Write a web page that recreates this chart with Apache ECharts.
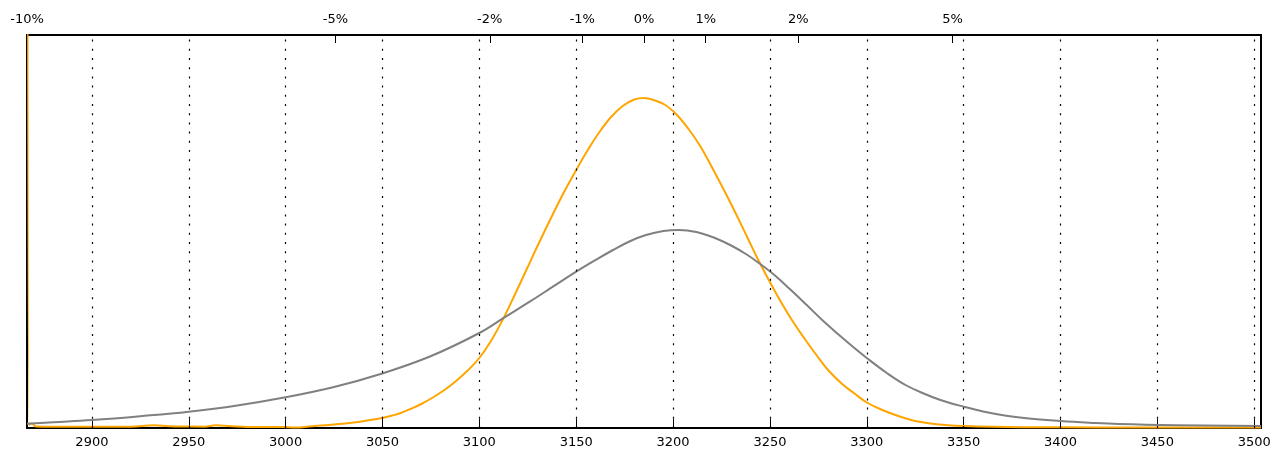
<!DOCTYPE html>
<html>
<head>
<meta charset="utf-8">
<script src="https://cdn.jsdelivr.net/npm/echarts@6/dist/echarts.min.js"></script>
<style>
html, body { margin:0; padding:0; background:#fff; }
#view1 { width:1275px; height:451px; }
</style>
</head>
<body>
<div id="view1"></div>
<script>
"use strict";
// x range = base price -10% .. +10%
var basePrice = 3185;
var xMin = 2866.5, xMax = 3503.5;

var bottomTicks = [2900, 2950, 3000, 3050, 3100, 3150, 3200, 3250, 3300, 3350, 3400, 3450, 3500];
var pctTicks = [-10, -5, -2.5, -1, 0, 1, 2.5, 5, 10];
var pctLabels = ['-10%', '-5%', '-2%', '-1%', '0%', '1%', '2%', '5%', '10%'];

// orange curve (estimated density)
var orangeX = [2866.5, 2867.5, 2868.5, 2869.5, 2871, 2880, 2900, 2920, 2932, 2940, 2950, 2958, 2964, 2972, 2985,
	2998, 3005, 3012, 3020, 3025, 3035, 3042, 3049, 3055, 3059, 3065, 3070, 3076, 3082, 3088, 3094, 3100, 3106,
	3112, 3118, 3124.5, 3131, 3138, 3144, 3150, 3156, 3162, 3168, 3174, 3180, 3185, 3190, 3196, 3202, 3208, 3214,
	3220, 3226, 3232, 3238, 3244, 3250, 3256, 3262, 3268, 3274, 3280, 3287, 3294, 3300, 3308, 3317, 3325, 3334,
	3342, 3350, 3365, 3380, 3420, 3503.5];
var orangeY = [2000, 3, 4.5, 4, 1.5, 1.3, 1.3, 1.3, 2.8, 1.8, 1.5, 1.3, 2.8, 1.8, 1,
	1, 0.6, 1.5, 2.8, 3.5, 5.5, 7.5, 9.8, 12.5, 14.7, 19.5, 24, 30.5, 38, 47, 57.5, 70, 87,
	108, 132, 159, 186, 214, 237, 258, 278, 296, 311, 322, 328.5, 330, 328, 323, 313, 299, 282,
	261, 239, 216, 192, 168, 146, 125, 106, 89, 73, 58, 44.5, 34, 25.5, 18, 11.5, 7, 4.2,
	2.8, 2, 1.2, 0.8, 0.6, 0.6];

// gray curve (fitted distribution)
var grayX = [2866.5, 2880, 2900, 2925, 2950, 2975, 3000, 3025, 3049, 3074.5, 3100, 3113, 3126, 3138, 3150,
	3160, 3169, 3178, 3186, 3195, 3203, 3212, 3221, 3230, 3238, 3245, 3252, 3260, 3269, 3277, 3286, 3293, 3300,
	3310, 3320, 3330, 3338, 3350, 3360, 3372, 3385, 3400, 3415, 3430, 3460, 3503.5];
var grayY = [4.3, 5.8, 8, 11.8, 16.3, 22.5, 30.7, 41, 54, 71.5, 95, 110.7, 126.3, 141.3, 156.3,
	168, 178, 187, 193, 197, 198, 196, 190.5, 182.5, 173.5, 164, 153.5, 139.5, 123, 108, 92.5, 81, 70,
	55.5, 43, 34, 28, 21.3, 16.5, 12.3, 9.3, 7, 5.3, 4, 2.8, 2];

function zip(a, b){ return a.map(function(d, i){ return [d, b[i]]; }); }

var font = 'DejaVu Sans';
var pctValues = pctTicks.map(function(p){ return basePrice * (1 + p / 100); });

var option = {
	animation: false,
	grid: { left: 27, right: 14, top: 35, bottom: 23, show: true, borderColor: '#000', borderWidth: 2, backgroundColor: 'transparent' },
	xAxis: [{
		type: 'value', min: xMin, max: xMax, position: 'bottom',
		axisLine: { show: false },
		splitLine: { show: false },
		axisTick: { show: true, inside: true, length: 9, customValues: bottomTicks, lineStyle: { color: '#000', width: 1 } },
		axisLabel: { show: true, customValues: bottomTicks, margin: 8, color: '#000', fontSize: 13, fontFamily: font,
			formatter: function(v){ return String(Math.round(v)); } }
	}, {
		type: 'value', min: xMin, max: xMax, position: 'top',
		axisLine: { show: false },
		splitLine: { show: false },
		axisTick: { show: true, inside: true, length: 8, customValues: pctValues, lineStyle: { color: '#000', width: 1 } },
		axisLabel: { show: true, customValues: pctValues, margin: 9, color: '#000', fontSize: 13, fontFamily: font,
			formatter: function(v){
				for (var i = 0; i < pctValues.length; i++)
					if (Math.abs(pctValues[i] - v) < 0.01) return pctLabels[i];
				return '';
			} }
	}],
	yAxis: { type: 'value', min: 0, max: 393, show: false },
	series: [{
		name: 'density', type: 'line', data: zip(orangeX, orangeY), showSymbol: false, smooth: 0.4,
		lineStyle: { color: '#FFA500', width: 2 }, itemStyle: { color: '#FFA500' }, clip: true, z: 3
	}, {
		name: 'fit', type: 'line', data: zip(grayX, grayY), showSymbol: false, smooth: 0.4,
		lineStyle: { color: '#808080', width: 2 }, itemStyle: { color: '#808080' }, clip: true, z: 4,
		markLine: {
			silent: true, symbol: 'none', label: { show: false },
			lineStyle: { color: '#000', width: 1.2, type: [2, 7.2] },
			data: bottomTicks.map(function(d){ return { xAxis: d }; })
		}
	}]
};
var myChart = echarts.init(document.getElementById('view1'));
myChart.setOption(option);
</script>
</body>
</html>
